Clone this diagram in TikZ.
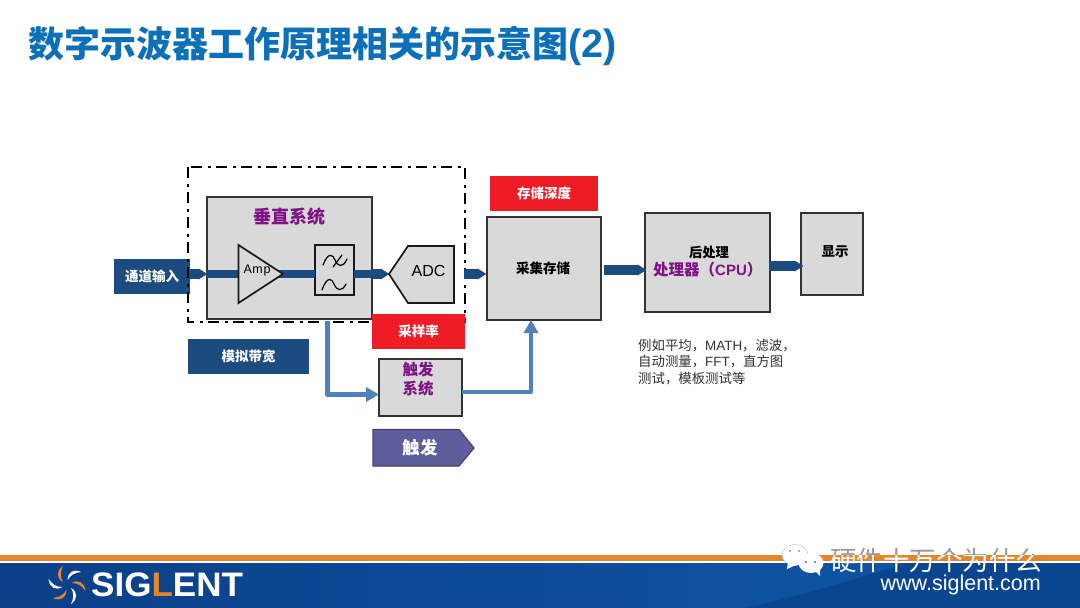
\documentclass[tikz,border=0pt]{standalone}
\usepackage{fontspec}
\setmainfont{Liberation Sans}
\newfontfamily\cjk{Noto Sans CJK SC}
\usepackage{xcolor}
\usetikzlibrary{arrows.meta,positioning,calc}
\definecolor{titleblue}{HTML}{0B70B8}
\definecolor{navy}{HTML}{1C4B80}
\definecolor{boxgrey}{HTML}{D9D9D9}
\definecolor{alarm}{HTML}{EE1C25}
\definecolor{plum}{HTML}{7F1285}
\definecolor{steel}{HTML}{4F81BD}
\definecolor{slate}{HTML}{5E5E9C}
\definecolor{band}{HTML}{E5862B}
\definecolor{footleft}{HTML}{0B3F88}
\definecolor{footright}{HTML}{0F58AA}
\definecolor{footdark}{HTML}{0A468F}
\tikzset{
  greybox/.style={draw=black!80, fill=boxgrey, line width=1.4pt, inner sep=0pt, outer sep=0pt},
  flatbox/.style={inner sep=0pt, outer sep=0pt, text=white, font=\cjk\bfseries\fontsize{13.5}{16}\selectfont},
  bus/.style={navy, line width=9.5pt, -{Triangle[length=9pt,width=10.5pt]}, shorten >=-0.5pt},
  wire/.style={navy, line width=8pt},
  feed/.style={steel, line width=4.2pt, line join=round, -{Triangle[length=13pt,width=14pt]}},
  plumtext/.style={text=plum, font=\cjk\bfseries\fontsize{15.5}{19}\selectfont, align=center},
  darktext/.style={text=black, font=\cjk\bfseries\fontsize{13.5}{16}\selectfont},
  wave/.style={black, line width=1.2pt, line cap=round}
}
\begin{document}
\begin{tikzpicture}[x=1pt,y=-1pt]
\useasboundingbox (0,0) rectangle (1080,608);
\fill[white] (0,0) rectangle (1080,608);
% ---------- title
\node[anchor=west, inner sep=0pt, text=titleblue, font=\cjk\bfseries\fontsize{36}{40}\selectfont] (title) at (28,46) {数字示波器工作原理相关的示意图{\rmfamily\fontsize{39.5}{40}\selectfont (2)}};

% ---------- vertical system
\node[flatbox, fill=navy, minimum width=76, minimum height=35] (chin) at (152,276.5) {通道输入};
\node[greybox, minimum width=165, minimum height=122] (vsys) at (289.5,258) {};
\node[plumtext, font=\cjk\bfseries\fontsize{18}{20}\selectfont] (vsyslabel) at (289,217) {垂直系统};
\coordinate (chinout) at (190,274);
\coordinate (vsysin) at (207,274);
\coordinate (amptip) at (283,274);
\coordinate (vsysout) at (372,274);
\coordinate (adctip) at (389,274);
\coordinate (adcout) at (464,274);
\node[greybox, draw=black!90, minimum width=39, minimum height=50] (filter) at (334.5,270) {};
\draw[wire] (vsysin) -- (amptip);
\draw[wire] (amptip) -- (filter.west |- amptip);
\draw[wire] (filter.east |- amptip) -- (vsysout);
\draw[bus] (chinout) -- (vsysin);
\draw[bus] (vsysout) -- (adctip);
\draw[greybox, draw=black!90, line width=1.7pt] (238.5,245) -- (amptip) -- (238.5,303) -- cycle;
\node[inner sep=0pt, font=\fontsize{12.5}{14}\selectfont\addfontfeatures{LetterSpace=5}] (amplabel) at (257,270.5) {Amp};
\draw[wave] (323,265) .. controls (328,252) and (333,254) .. (335,260) .. controls (338,267) and (343,268) .. (347,259);
\draw[wave] (333,267) -- (342,255);
\draw[wave] (322,290) .. controls (327,276) and (332,278) .. (334,284) .. controls (337,291) and (342,292) .. (346,284);
\draw[greybox, draw=black!90, line width=1.7pt] (adctip) -- (408,246) -- (454,246) -- (454,303) -- (408,303) -- cycle;
\node[inner sep=0pt, font=\fontsize{16}{18}\selectfont] (adclabel) at (428.5,271) {ADC};
\draw[black, line width=2.8pt, dash pattern=on 11pt off 5.5pt on 3pt off 5.5pt] (188,167) rectangle (465,322);

% ---------- acquisition memory
\node[greybox, minimum width=114, minimum height=103] (store) at (544,268.5) {};
\node[darktext] (storelabel) at (543,268) {采集存储};
\node[flatbox, fill=alarm, minimum width=108, minimum height=35] (depth) at (544,193.5) {存储深度};
\node[flatbox, fill=alarm, minimum width=93, minimum height=35] (rate) at (418.5,331.5) {采样率};
\node[flatbox, fill=navy, minimum width=121, minimum height=35] (bandw) at (248.5,356.5) {模拟带宽};
\coordinate (storein) at (486,274);
\draw[bus] (adcout) -- (storein);

% ---------- trigger
\node[greybox, minimum width=83, minimum height=57] (trig) at (420.5,387.5) {};
\node[plumtext] (triglabel) at (418,379) {触发\\系统};
\coordinate (tapa) at (327.5,321);
\coordinate (tapb) at (327.5,394.5);
\coordinate (tapc) at (531,392);
\draw[feed] (tapa) -- (tapb) -- (tapb -| trig.west);
\draw[feed] (tapc -| trig.east) -- (tapc) -- (tapc |- store.south);
\draw[slate!70!black, fill=slate, line width=1.2pt] (373,429.5) -- (459,429.5) -- (474,448) -- (459,466) -- (373,466) -- cycle;
\node[inner sep=0pt, text=white, font=\cjk\bfseries\fontsize{17.5}{20}\selectfont] (triggo) at (420,448) {触发};

% ---------- post processing and display
\node[greybox, minimum width=125, minimum height=99] (post) at (707.5,262.5) {};
\node[darktext, font=\cjk\bfseries\fontsize{13.3}{16}\selectfont] (postlabel) at (709,252) {后处理};
\node[plumtext, anchor=west, inner sep=0pt] (cpu) at (653,269.5) {处理器（{\rmfamily\fontsize{15}{18}\selectfont CPU}）};
\node[greybox, minimum width=62, minimum height=82] (show) at (832,254) {};
\node[darktext] (showlabel) at (835,252) {显示};
\coordinate (storeout) at (604,270);
\coordinate (postin) at (646,270);
\coordinate (postout) at (769,266);
\coordinate (showin) at (803,266);
\draw[bus] (storeout) -- (postin);
\draw[bus] (postout) -- (showin);
\node[anchor=north west, inner sep=0pt, align=left, text=black!80, font=\cjk\fontsize{13.4}{16.5}\selectfont] (notes) at (638,339) {例如平均，{\rmfamily MATH}，滤波，\\自动测量，{\rmfamily FFT}，直方图\\测试，模板测试等};

% ---------- footer
\fill[band] (0,555) rectangle (1080,560.5);
\shade[left color=footleft, right color=footright] (0,563) rectangle (1080,608);
\fill[footdark] (745,608) .. controls (800,596) and (860,578) .. (905,563) -- (1080,563) -- (1080,608) -- cycle;
\foreach \a/\c in {0/band,60/white,120/band,180/white,240/band,300/white}{
  \begin{scope}[shift={(67,585)}, rotate=\a]
    \fill[\c] (-4,-3) .. controls (-11,-7) and (-11,-14) .. (-4,-19) .. controls (-7,-13) and (-7,-8) .. (-4,-3) -- cycle;
  \end{scope}}
\node[anchor=west, inner sep=0pt, text=white, xscale=1.03, font=\bfseries\fontsize{34}{36}\selectfont] (logo) at (91,585) {SIG\textcolor{band}{L}ENT};
\node[anchor=east, inner sep=0pt, text=white, font=\fontsize{21.5}{24}\selectfont] (site) at (1041,584.5) {www.siglent.com};
% ---------- watermark
\fill[white, draw=black!25, line width=0.5pt] (795,555) ellipse [x radius=13, y radius=10.5];
\fill[white] (788,562) -- (787,569) -- (796,565) -- cycle;
\fill[black!40] (790,551) circle (1.2);
\fill[black!40] (799,551) circle (1.2);
\fill[white] (811,563) ellipse [x radius=12.5, y radius=10];
\fill[white] (814,570) -- (820,576) -- (820,568) -- cycle;
\fill[black!60] (806,562) circle (1.2);
\fill[black!60] (815,562) circle (1.2);
\begin{scope}
  \clip (820,540) rectangle (1080,555);
  \node[inner sep=0pt, text=black!40, font=\cjk\fontsize{26.5}{30}\selectfont] (markgrey) at (936,560) {硬件十万个为什么};
\end{scope}
\begin{scope}
  \clip (820,555) rectangle (1080,580);
  \node[inner sep=0pt, text=white, font=\cjk\fontsize{26.5}{30}\selectfont] (markwhite) at (936,560) {硬件十万个为什么};
\end{scope}
\end{tikzpicture}
\end{document}
